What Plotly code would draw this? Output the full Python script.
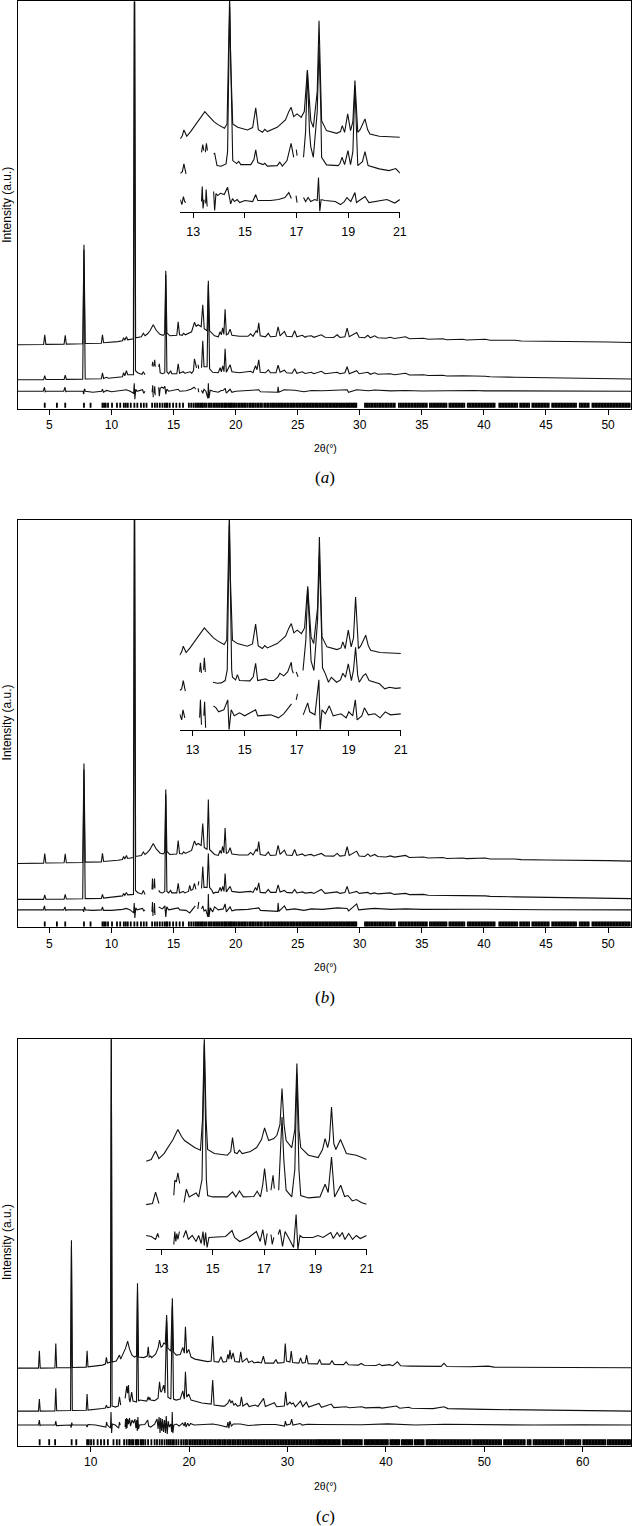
import plotly.graph_objects as go

# ---------------- DATA (2theta in degrees, intensity in arbitrary units) ----------------
# Panels (a) and (b): same observed pattern, two refinements
MAIN_OBS_AB = [(2.46,0),(4.53,0.3),(4.62,10),(4.71,0.4),(6.18,0.6),(6.27,9.5),(6.36,0.7),(7.68,1),(7.78,100),(7.88,1.3),
 (9.18,1.6),(9.27,10),(9.36,2),(10.0,2.5),(10.5,3.2),(10.88,4),(10.97,7),(11.07,4.5),(11.2,8),(11.3,5),(11.76,6),(11.85,420),
 (11.94,7),(12.4,8),(12.56,11.5),(12.7,9),(12.9,11),(13.1,14),(13.36,20),(13.6,14.5),(13.9,10.5),(14.15,9.5),(14.28,11),
 (14.37,74),(14.46,12),(14.7,9),(15.26,9.5),(15.37,23),(15.48,10),(15.7,9.5),(15.8,11.5),(15.95,10),(16.45,13),(16.68,22.5),
 (16.82,18.5),(16.98,20),(17.22,18),(17.35,40),(17.47,16),(17.7,14),(17.8,64),(17.9,14),(18.3,9),(18.6,8),(18.75,13),
 (18.85,10),(18.95,17),(19.05,10.5),(19.15,35.5),(19.25,10),(19.4,11),(19.55,15.7),(19.7,9.5),(20.3,8.5),(21.0,8.5),
 (21.2,11),(21.4,8.5),(21.65,14),(21.75,12),(21.86,22),(21.98,9),(22.4,8),(22.63,11.5),(22.8,8),(23.25,8.5),(23.42,18),
 (23.58,9),(23.93,13.3),(24.1,8.5),(24.55,8),(24.75,14),(24.93,8),(25.37,9.5),(25.6,7.5),(25.75,8.5),(26.1,9),(26.3,7.5),
 (26.9,10),(27.2,7.5),(27.9,7.3),(28.18,10),(28.4,7.3),(28.8,8),(28.98,16.7),(29.15,8),(29.75,12.3),(29.95,7.5),(30.4,7),
 (30.65,9.5),(30.85,7),(31.2,9),(31.45,7),(32.1,6.5),(32.45,7.5),(32.8,6.3),(33.68,8),(34.0,6),(35.14,6.5),(35.5,5.5),
 (36.7,6),(37.0,5),(38.3,5.5),(38.6,4.8),(40.1,5.5),(40.5,4.5),(42.5,4.5),(43.0,3.8),(45.0,3.5),(47.0,3.5),(48.0,3),
 (50.0,2.8),(51.85,2.3)]

MAIN_CALC_A = [(2.46,0),(4.53,0),(4.62,4),(4.71,0.2),(6.18,0.3),(6.27,4.5),(6.36,0.4),(7.68,0.6),(7.78,130),(7.88,0.8),
 (9.18,1),(9.27,7),(9.36,1.3),(9.6,2.5),(9.75,1.5),(10.5,2.5),(10.88,3),(10.97,7),(11.07,4),(11.2,9),(11.3,5),(11.77,5),
 (11.85,400),(11.93,9),(12.1,7),(12.3,6),(12.45,5.5),(12.56,8),(12.7,5),None,
 (13.27,14),(13.32,18),(13.36,13),None,(13.44,14),(13.48,20),(13.52,13),None,
 (13.8,13),(13.85,16),(13.92,7),(14.1,6),(14.29,7),(14.37,105),(14.46,8),(14.6,6),(14.76,9),(14.85,6),(15.26,6),(15.37,16),
 (15.48,6.5),(15.77,8),(15.9,6.5),(16.35,8),(16.45,6.5),(16.6,9),(16.68,21),(16.8,12),(16.85,12),None,(16.98,15),(17.02,11),None,
 (17.25,12),(17.35,39),(17.45,13),(17.7,13),(17.8,95),(17.9,11),(18.15,7.5),(18.6,7),(18.75,12),(18.85,8),(18.96,14),
 (19.06,8),(19.15,31),(19.25,7.5),(19.55,15),(19.7,8),(20.3,7),(21.2,8.5),(21.4,7),(21.6,14),(21.72,10),(21.86,20),(21.98,7.5),
 (22.4,7),(22.63,10),(22.8,7),(23.25,7),(23.42,14.5),(23.58,7.5),(23.93,9.5),(24.1,7),(24.55,6.5),(24.75,11),(24.93,6.5),
 (25.37,8),(25.6,6.3),(26.1,7.5),(26.3,6),(26.9,8.5),(27.2,6),(28.18,7.5),(28.4,6),(28.8,7),(28.98,13),(29.15,6),(29.75,9),
 (29.95,6),(30.65,7.5),(30.85,5.5),(31.2,7),(31.45,5.5),(32.45,6),(32.8,5),(33.68,6.5),(34.0,4.8),(35.14,5),(35.5,4.2),
 (36.7,4.5),(37.0,3.8),(38.3,4),(40.1,3.5),(40.5,3),(42.5,2.5),(45,2),(48,1.5),(51.85,0.8)]

MAIN_DIFF_A = [(2.46,0),(4.5,0),(4.6,4),(4.66,-0.5),(4.72,0),(6.15,0),(6.25,4),(6.32,-0.5),(6.4,0),(7.7,0),(7.76,-3),
 (7.82,2.5),(7.9,0),(8.5,-1),(9.2,0),(9.27,2),(9.35,-1),(9.6,0.8),(10.0,-0.5),(10.9,0.5),(11.2,1.5),(11.5,0),(11.78,-2),
 (11.83,8),(11.88,-8),(11.95,2),(12.05,0),(12.5,1.5),(12.6,-2),(12.7,0),None,(13.27,-1),(13.32,6),(13.36,-6),None,
 (13.44,-2),(13.48,5),(13.52,-4),None,(13.8,4),(13.85,-5),(13.92,3),(14.05,4),(14.2,3),(14.3,5),(14.37,-3),(14.45,2),
 (14.6,0),(15.0,1),(15.37,2),(15.5,0),(16.0,0.5),(16.4,2),(16.65,4),(16.8,2),None,(16.98,3),(17.02,-1),None,(17.25,1),
 (17.35,-2),(17.45,2),(17.6,0),(17.76,-7),(17.8,8),(17.85,-7),(17.95,1),(18.2,0),(18.6,-1),(18.8,0.5),(19.0,1),(19.15,3),
 (19.25,-2),(19.55,2),(19.7,-1),(20.0,0),(21.0,0.5),(21.86,1.5),(22.0,-0.5),(23.38,-1),(23.42,4.5),(23.48,-1),(23.9,1.5),
 (24.75,1),(25.5,-0.5),(26.1,0.8),(27.0,0.5),(28.2,1),(28.98,1.5),(29.1,-1),(29.75,1.5),(30.7,0.5),(31.2,1.2),(32.5,0.4),
 (33.7,0.8),(35.0,0.3),(36.7,0.6),(39.2,0.8),(40.1,0.4),(45,0.2),(51.85,0)]

MAIN_CALC_B = [(2.46,0),(4.53,0),(4.62,4.5),(4.71,0.2),(6.18,0.3),(6.27,5),(6.36,0.4),(7.68,0.6),(7.78,130),(7.88,0.8),
 (9.18,1),(9.27,5),(9.36,1.3),(10.5,2.5),(10.88,3.5),(10.97,6),(11.07,4),(11.2,7),(11.3,4.5),(11.77,5),(11.85,400),(11.93,9),
 (12.1,7),(12.3,6),(12.45,5.5),(12.56,9),(12.7,5),None,(13.26,10),(13.3,21),(13.34,10),None,(13.42,12),(13.46,21),(13.5,11),None,
 (13.8,9),(13.92,7),(14.1,6.5),(14.29,8),(14.37,105),(14.46,8),(14.6,6.5),(14.76,9),(14.85,6.5),(15.26,6.5),(15.37,16),
 (15.48,6.5),(15.77,8),(15.9,6.5),(16.2,8),(16.3,14),(16.4,9),(16.55,10),(16.68,16),(16.8,10),None,(16.98,14),(17.03,18),None,
 (17.25,11),(17.35,33),(17.45,12),(17.7,12),(17.8,46),(17.9,12),(18.1,9),(18.2,6),(18.35,7),(18.6,7),(18.75,12),(18.85,8),
 (18.96,13),(19.06,8),(19.15,26),(19.25,7.5),(19.55,13),(19.7,8),(20.3,7),(21.2,8),(21.4,7),(21.6,12),(21.72,9),(21.86,16.5),
 (21.98,7),(22.4,6.5),(22.63,10),(22.8,7),(23.25,7),(23.42,14.5),(23.58,7.5),(23.93,9),(24.1,7),(24.55,6.5),(24.75,10),(24.93,6.5),
 (25.37,7.5),(25.6,6.3),(26.1,7),(26.3,6),(26.9,10),(27.2,6),(28.18,7.5),(28.4,6),(28.8,7),(28.98,13),(29.15,6),(29.75,8),
 (29.95,6),(30.65,7),(30.85,5.5),(31.2,6.5),(31.45,5.5),(32.45,6.5),(32.8,5),(33.68,6),(34.0,4.8),(35.14,5),(35.5,4.2),
 (36.7,4.3),(37.0,3.8),(38.3,3.8),(40.1,3.5),(40.5,3),(42.5,2.5),(45,2),(48,1.5),(51.85,0.8)]

MAIN_DIFF_B = [(2.46,0),(4.5,0),(4.6,4),(4.66,-0.5),(4.72,0),(6.15,0),(6.25,3),(6.32,-0.5),(6.4,0),(7.7,0),(7.76,-2),
 (7.82,3),(7.9,0),(8.5,-0.5),(9.2,0),(9.27,3),(9.35,-0.5),(10.0,-0.5),(10.9,0.5),(11.2,1.5),(11.5,0),(11.78,-3),(11.83,7),
 (11.88,-8),(11.95,2),(12.05,0),(12.5,1.5),(12.6,-1),(12.7,0),None,(13.26,-2),(13.3,8),(13.34,-6),None,(13.42,-3),(13.46,7),
 (13.5,-5),None,(13.8,3),(13.95,2),(14.1,1),(14.3,4),(14.37,-7),(14.45,3),(14.6,0),(15.0,1),(15.37,2),(15.5,0),(16.0,-0.5),
 (16.3,-3),(16.5,0),(16.65,2),(16.75,4),None,(16.95,1),(17.03,8),None,(17.25,1),(17.35,4),(17.45,-1),(17.6,0),(17.76,-7),
 (17.8,16),(17.85,-7),(17.95,2),(18.15,-2),(18.3,3),(18.6,0),(19.0,1),(19.15,6),(19.25,-2),(19.55,3),(19.7,-1),(20.0,0),
 (21.0,0.5),(21.86,2),(22.0,-0.5),(23.38,-1.5),(23.42,7),(23.48,-1.5),(23.93,4),(24.1,0),(24.75,1),(25.5,-0.5),(26.1,1),
 (27.0,0.5),(28.2,2),(28.98,1.5),(29.1,-1),(29.75,6),(29.9,0),(30.7,1),(31.2,1.5),(32.5,0.5),(33.7,1),(35.0,0.5),(36.7,0.6),
 (39.2,0.8),(40.1,0.6),(45,0.2),(51.85,0)]

REFL_AB = [4.62,5.60,6.27,7.78,8.31,9.27,9.40,9.53,9.72,10.04,10.44,10.70,10.99,11.15,11.31,11.55,11.84,12.08,12.37,12.60,
 12.82,13.27,13.49,13.68,13.89,14.10,14.29,14.42,14.50,14.69,14.96,15.22,15.49,15.76,16.23,16.42,16.60,16.76,16.89,17.02,
 17.14,17.27,17.36,17.50,17.62,17.80,17.93,18.05,18.20,18.33,18.46,18.58,18.72,18.85,18.95,19.08,19.16,19.28,19.40,19.52,
 19.60,19.70,19.82,19.93,20.05,20.2,20.31,20.44,20.58,20.7,20.81,20.95,21.1,21.22,21.35,21.46,21.6,21.74,21.86,22.0,22.12,
 22.3,22.42,22.55,22.66,22.8,22.93,23.05,23.17,23.3,23.42,23.55,23.66,23.78,23.9,24.03,24.15,24.27,24.4,24.52,24.63,24.75,
 24.88,25.0,25.12,25.24,25.36,25.47,25.58,25.7,25.82,25.93,26.05,26.16,26.28,26.4,26.51,26.62,26.74,26.85,26.97,27.08,27.2,
 27.31,27.42,27.54,27.65,27.76,27.88,27.99,28.1,28.21,28.33,28.44,28.55,28.66,28.78,28.89,29.0,29.1,29.2,29.31,29.42,29.52,
 29.62,29.72,30.42,30.55,30.66,30.8,30.92,31.05,31.18,31.3,31.43,31.56,31.68,31.8,31.93,32.06,32.18,32.3,32.44,32.57,32.7,
 32.82,33.15,33.28,33.4,33.52,33.65,33.77,33.9,34.02,34.15,34.27,34.4,34.52,34.65,34.77,34.9,35.02,35.15,35.27,35.4,35.65,
 35.77,35.9,36.02,36.14,36.26,36.38,36.5,36.62,36.74,36.86,36.98,37.22,37.34,37.46,37.58,37.7,37.82,37.94,38.06,38.18,38.3,
 38.42,38.7,38.82,38.94,39.06,39.18,39.3,39.42,39.54,39.66,39.78,39.9,40.02,40.14,40.26,40.38,40.5,40.62,40.74,40.86,41.24,
 41.36,41.48,41.6,41.72,41.84,41.96,42.08,42.2,42.32,42.44,42.56,42.68,42.92,43.04,43.16,43.28,43.4,43.52,43.64,43.9,44.02,
 44.14,44.26,44.38,44.5,44.62,44.74,44.86,44.98,45.1,45.22,45.5,45.62,45.74,45.86,45.98,46.1,46.22,46.34,46.46,46.58,46.7,
 46.82,46.94,47.06,47.18,47.3,47.42,47.72,47.84,47.96,48.08,48.2,48.32,48.44,48.74,48.86,48.98,49.1,49.22,49.34,49.46,49.58,
 49.7,49.82,49.94,50.06,50.18,50.3,50.42,50.54,50.66,50.78,50.9,51.02,51.14,51.26,51.38,51.5,51.62,51.74]

INSET_OBS_AB = [(12.5,72.7),(12.58,76),(12.64,81.7),(12.75,75.3),(12.9,80),(13.06,86),(13.2,91),(13.32,96),(13.45,100),
 (13.55,97),(13.64,94.3),(13.8,90),(13.96,87),(14.1,85),(14.21,83.3),(14.31,87.7),(14.37,150),(14.41,215),(14.45,150),
 (14.53,87.7),(14.72,84.3),(15.1,81.7),(15.3,84),(15.42,103.7),(15.52,82),(15.68,79.3),(15.77,82.3),(15.87,80),(16.25,84.3),
 (16.57,91.7),(16.7,100),(16.79,104.3),(16.89,95),(17.02,97.7),(17.18,94.3),(17.3,100),(17.42,141.7),(17.55,91),(17.65,84.3),
 (17.8,120),(17.87,191),(17.94,120),(17.97,91),(18.16,81),(18.55,78.3),(18.7,80),(18.77,86),(18.86,79.3),(18.98,97.7),
 (19.09,81),(19.18,90),(19.26,131),(19.34,85),(19.37,79.3),(19.46,82),(19.57,88),(19.65,92.7),(19.75,82),(19.84,77.7),
 (20.2,75.3),(20.6,74.8),(21.0,74.3)]

INSET_CALC_A = [(12.5,38.3),(12.58,40),(12.64,47.7),(12.72,37.7),None,(13.32,59.3),(13.37,67),(13.41,61),None,(13.47,59.3),
 (13.51,68.3),(13.55,61),None,(13.79,57.7),(13.83,58.3),(13.92,46),(14.08,45.3),(14.27,47.7),(14.33,60),(14.41,205),(14.5,60),
 (14.53,51),(14.68,48),(14.76,50.3),(14.84,47),(15.23,47),(15.35,52),(15.42,61.7),(15.5,49),(15.7,47),(15.77,48.3),
 (15.87,45.5),(16.25,46),(16.35,49.3),(16.45,45.5),(16.63,51),(16.79,68.3),(16.89,54.3),None,(16.99,62),(17.02,56),None,
 (17.27,54.3),(17.35,80),(17.42,141),(17.5,80),(17.55,65),(17.65,54.3),(17.8,100),(17.87,165),(17.94,100),(17.97,54.3),
 (18.16,46.7),(18.61,46),(18.68,48),(18.76,54.3),(18.86,47),(18.99,61),(19.09,47),(19.18,60),(19.26,125),(19.34,60),
 (19.37,46),(19.55,50),(19.65,60),(19.77,46),(20.2,42.7),(20.58,41),(20.7,42),(20.84,43),(20.95,40),(21.0,38.3)]

INSET_DIFF_A = [(12.5,12),(12.56,7),(12.62,15),(12.67,10),(12.72,9),None,(13.32,10),(13.35,25),(13.38,3),(13.42,12),None,
 (13.48,8),(13.5,22),(13.54,5),None,(13.79,20),(13.83,1),(13.88,18),(13.95,16),(14.05,18.3),(14.2,17),(14.33,24.3),
 (14.41,11),(14.45,7.7),(14.52,13),(14.6,10),(14.7,12),(14.8,9),(15.0,11),(15.3,10),(15.42,17),(15.5,11),(16.0,11),
 (16.3,12),(16.55,14),(16.7,19),(16.8,13),None,(16.98,16),(17.02,9),None,(17.27,14),(17.35,10),(17.45,14),(17.55,10),
 (17.7,12),(17.8,11),(17.85,34),(17.9,0),(17.95,12),(18.1,11),(18.5,10),(18.7,7),(18.85,10),(18.95,14),(19.1,10),
 (19.26,19),(19.32,9),(19.5,12),(19.65,15),(19.8,9),(20.2,11),(20.5,12),(20.8,8.5),(21.0,12)]

INSET_CALC_B = [(12.5,39.3),(12.58,41),(12.64,49.3),(12.72,38.7),None,(13.27,58),(13.3,67),(13.34,57),None,(13.42,60),
 (13.45,72),(13.49,58),None,(13.78,47.6),(13.95,46.6),(14.1,47),(14.25,49.3),(14.33,60),(14.41,205),(14.5,60),(14.53,52.6),
 (14.65,50),(14.72,55.3),(14.8,49.3),(15.2,49),(15.33,53),(15.42,66.6),(15.5,49.3),(15.7,50),(15.8,51),(15.9,49.5),
 (16.12,49.3),(16.28,53),(16.35,56.6),(16.5,54),(16.65,58),(16.79,67.6),(16.82,60),(16.87,56.6),None,(16.98,58),(17.05,53),None,
 (17.24,59.3),(17.35,90),(17.42,142),(17.5,90),(17.55,69),(17.66,59.3),(17.8,110),(17.87,175),(17.94,110),(17.99,62),
 (18.1,56),(18.22,47.6),(18.33,52.6),(18.53,47.6),(18.68,50),(18.77,56.6),(18.87,52.6),(18.98,66),(19.1,49.3),(19.18,60),
 (19.26,82.6),(19.34,55),(19.4,47.6),(19.55,54),(19.65,56),(19.78,49.3),(20.18,46),(20.38,41),(20.56,42.6),(20.8,41.5),
 (21.0,42)]

INSET_DIFF_B = [(12.5,16),(12.58,10),(12.63,20),(12.7,12),None,(13.27,12),(13.3,30),(13.34,5),None,(13.43,14),(13.46,28),
 (13.5,2),None,(13.8,24),(13.9,22),(14.0,18),(14.2,20),(14.35,30),(14.4,0),(14.48,20),(14.6,14),(14.8,17),(15.0,14),
 (15.42,20),(15.5,14),(16.0,15),(16.3,12),(16.5,16),(16.7,22),(16.8,26),None,(16.98,30),(17.03,36),None,(17.25,15),
 (17.42,27),(17.5,18),(17.7,15),(17.85,50),(17.9,0),(17.97,20),(18.1,16),(18.25,24),(18.4,14),(18.7,16),(18.9,12),
 (19.0,18),(19.15,14),(19.25,30),(19.32,10),(19.5,14),(19.6,22),(19.75,15),(20.0,16),(20.2,12),(20.4,18),(20.6,15),(21.0,16)]

# Panel (c)
MAIN_OBS_C = [(2.6,0),(4.7,0),(4.79,17.3),(4.88,0),(6.37,0.2),(6.46,24.7),(6.55,0.3),(7.96,0.5),(8.05,128),(8.14,0.6),
 (9.55,1),(9.64,17.3),(9.73,1.2),(10.5,2),(11.2,3),(11.5,4),(11.6,10.7),(11.7,5),(12.02,6),(12.1,340),(12.18,6),(12.6,7),
 (12.93,13),(13.05,9),(13.3,14),(13.55,20),(13.76,27),(13.95,19),(14.2,13),(14.45,11),(14.66,12),(14.76,85),(14.86,11),
 (15.4,10.5),(15.75,12),(15.85,21.3),(15.95,11),(16.1,12),(16.2,10.5),(16.6,14),(16.85,20),(17.0,28),(17.15,21),(17.3,22),
 (17.42,25),(17.58,24),(17.72,53),(17.84,20),(18.15,17),(18.3,70),(18.42,16),(18.7,13),(19.1,13.5),(19.36,20.7),(19.52,15),
 (19.63,41.3),(19.76,15),(19.97,18.7),(20.2,11),(20.6,9),(21.1,8),(21.6,7.3),(21.9,6.5),(22.25,7),(22.4,32),(22.54,6.5),
 (23.0,6),(23.24,11.3),(23.45,6),(23.8,6.5),(23.94,13.7),(24.05,9),(24.15,18),(24.3,9),(24.47,15.3),(24.65,6.5),(25.1,6),
 (25.25,16.3),(25.4,6),(25.87,9.7),(26.05,5.5),(26.4,7.3),(26.6,5.3),(27.02,6),(27.35,5.2),(27.55,12),(27.72,5),(28.6,5),
 (28.82,8.7),(29.0,5),(29.65,5.5),(29.77,24.7),(29.9,7),(30.25,6),(30.38,17),(30.52,5.5),(31.15,5),(31.33,10.3),(31.5,5),
 (31.8,5.5),(31.94,13),(32.1,4.5),(33.05,4.2),(33.26,8.7),(33.45,4),(34.3,4),(34.52,7.3),(34.75,3.7),(35.7,3.5),(35.96,6.3),
 (36.2,3.3),(37.2,3),(37.48,4.7),(37.8,2.8),(39.0,2.6),(39.33,4),(39.6,2.5),(40.35,3.5),(40.7,2.4),(41.17,6.3),(41.5,2.3),
 (42.5,2),(44,1.8),(45.6,1.7),(45.9,4.7),(46.2,1.6),(48.5,1.3),(50.4,2),(51,1),(55,0.8),(59,1.2),(60,0.6),(64.9,0.3)]

MAIN_CALC_C = [(2.6,0),(4.7,0),(4.79,12),(4.88,0),(6.37,0.2),(6.46,22.7),(6.55,0.3),(7.96,0.5),(8.05,165),(8.14,0.6),
 (9.55,0.8),(9.64,17),(9.73,1),(10.5,1.5),(11.2,2.5),(11.5,3),(11.6,6),(11.7,3.5),(12.02,4),(12.1,380),(12.18,5),
 (12.35,4.5),(12.5,4),(12.8,5),(12.93,14.3),(13.05,6),None,(13.5,12.7),(13.6,22),(13.67,25),(13.75,18),(13.84,26),
 (13.92,12),(14.0,9),(14.17,19),(14.3,10),(14.66,9),(14.76,120),(14.86,10),(15.0,11),(15.7,10),(15.85,14.3),(15.93,11),
 (16.0,13.7),(16.1,11),(16.5,10.5),(16.85,13),(17.0,29.3),(17.1,20),(17.18,19),(17.3,22),(17.42,26),(17.55,18),(17.72,90),
 (17.85,14),(18.15,12),(18.3,105),(18.42,12),(18.69,11),(19.1,12),(19.36,20.3),(19.52,12),(19.63,39.3),(19.76,14),(19.97,17),
 (20.2,11),(21.3,8),(21.6,7.7),(22.0,7),(22.25,7),(22.4,31),(22.54,6),(23.38,5),(23.6,5),(23.94,8),(24.12,11.7),(24.25,8),
 (24.38,10.3),(24.55,6),(24.72,7.5),(24.9,5),(25.18,5.5),(25.32,14.3),(25.47,5),(25.89,7.7),(26.1,4.5),(26.73,6),(27.0,4.5),
 (27.57,12.7),(27.75,4.5),(28.67,8.3),(28.9,4.3),(29.68,5),(29.81,19.3),(29.95,6),(30.25,9),(30.4,7),(30.58,8),(30.8,4.2),
 (31.32,10),(31.55,4.5),(31.92,9),(32.15,4),(33.2,7.7),(33.45,3.8),(34.44,7),(34.7,3.5),(35.94,4.3),(36.3,3.3),(37.55,4.3),
 (37.9,3.2),(39.3,3.7),(39.6,3),(41.07,5),(41.4,2.8),(42.3,3.8),(42.6,2.8),(44.8,2.5),(45.9,4.3),(46.3,2.5),(50.0,1.7),
 (55,1),(60,0.5),(64.9,0)]

MAIN_DIFF_C = [(2.6,0),(4.7,0),(4.79,5),(4.86,-0.5),(4.95,0),(6.38,0),(6.46,4),(6.54,-0.5),(7.95,0),(8.02,-2.5),(8.08,2.5),
 (8.15,0),(9.55,0),(9.64,-2),(9.72,0.5),(10.5,0),(11.55,-2),(11.62,3),(11.7,0),(12.02,-3),(12.07,13),(12.13,-8),(12.2,1),
 (12.5,0),(12.85,-3),(12.93,3),(13.0,0),None,(13.5,-2),(13.55,6),(13.6,-4),(13.65,7),(13.7,-3),(13.76,6),(13.85,1),
 (13.95,7),(14.05,-1),(14.2,5),(14.35,2),(14.5,6),(14.6,-3),(14.68,5),(14.74,-6),(14.8,8),(14.86,-4),(14.95,0),(15.5,0.5),
 (15.8,5),(15.9,-1),(16.1,-2),(16.5,1),(16.75,6),(16.85,-4),(16.95,8),(17.05,-8),(17.12,7),(17.22,-6),(17.3,6),(17.4,-7),
 (17.5,5),(17.6,-8),(17.68,9),(17.78,-9),(17.88,4),(18.0,-2),(18.15,1),(18.24,-7),(18.29,13),(18.35,-8),(18.45,0),(18.7,1),
 (19.0,-1),(19.35,2),(19.5,-1),(19.6,3),(19.7,-2),(19.85,2),(20.0,-1),(20.15,1.5),(20.5,0),(21.5,0.5),(22.4,1),(23.0,0),
 (23.85,-2),(23.95,3),(24.05,-3),(24.15,4),(24.3,-1),(24.5,1),(25.2,1),(26.0,-0.5),(27.5,0.5),(28.8,0.5),(29.7,-1),
 (29.78,4),(29.9,0),(30.3,1),(30.42,6),(30.55,0),(31.3,1.5),(31.5,0),(32.0,0.8),(33.2,0.5),(34.5,0.5),(36.0,0.4),(37.5,0.3),
 (40.2,1.2),(41.2,0.8),(43,0),(46.0,0.8),(50.0,0.3),(55,0),(60,0.2),(64.9,0)]

REFL_C = [4.82,5.79,6.39,8.07,8.54,9.64,9.81,10.04,10.31,10.71,11.05,11.38,11.75,12.32,12.66,12.93,13.40,13.66,13.90,14.00,
 14.20,14.33,14.57,14.70,14.83,15.07,15.20,15.34,15.55,15.84,16.17,16.50,16.74,17.01,17.25,17.51,17.75,17.95,18.12,18.29,
 18.46,18.69,18.92,19.19,19.42,19.62,19.79,20.02,20.19,20.38,20.55,20.7,20.88,21.05,21.2,21.38,21.55,21.7,21.88,22.05,22.22,
 22.38,22.55,22.72,22.9,23.05,23.22,23.4,23.56,23.72,23.9,24.06,24.22,24.4,24.56,24.72,24.9,25.06,25.22,25.4,25.56,25.72,
 25.88,26.05,26.2,26.38,26.55,26.7,26.86,27.02,27.2,27.36,27.52,27.68,27.85,28.0,28.16,28.32,28.48,28.64,28.8,28.96,29.12,
 29.28,29.44,29.6,29.76,29.92,30.08,30.24,30.4,30.56,30.72,30.88,31.04,31.2,31.36,31.52,31.68,31.84,32.0,32.16,32.32,32.48,
 32.64,32.8,32.96,33.1,33.23,33.36,33.49,33.62,33.75,33.88,34.01,34.14,34.27,34.4,34.53,34.66,34.79,34.92,35.05,35.18,35.31,
 35.6,35.73,35.86,35.99,36.12,36.25,36.38,36.51,36.64,36.77,36.9,37.03,37.16,37.29,37.42,37.55,37.85,37.98,38.11,38.24,
 38.37,38.5,38.63,38.76,38.89,39.02,39.15,39.28,39.41,39.54,39.67,39.8,39.93,40.06,40.19,40.45,40.58,40.71,40.84,40.97,
 41.1,41.23,41.36,41.62,41.75,41.88,42.01,42.14,42.27,42.4,42.53,42.66,42.92,43.05,43.18,43.31,43.44,43.57,43.7,43.83,
 44.12,44.25,44.38,44.51,44.64,44.77,44.9,45.03,45.16,45.31,45.46,45.61,45.76,45.91,46.06,46.21,46.36,46.51,46.66,46.81,
 46.96,47.11,47.26,47.41,47.56,47.71,47.86,48.01,48.16,48.31,48.46,48.61,48.85,49.0,49.15,49.3,49.45,49.6,49.75,49.9,
 50.05,50.2,50.35,50.5,50.65,50.8,50.95,51.1,51.25,51.4,51.55,51.7,52.0,52.15,52.3,52.45,52.6,52.75,52.9,53.05,53.2,
 53.35,53.5,53.65,53.8,53.95,54.1,54.4,54.55,54.7,55.0,55.15,55.3,55.45,55.6,55.75,55.9,56.05,56.2,56.35,56.5,56.65,
 56.8,56.95,57.1,57.25,57.4,57.55,57.7,57.85,58.0,58.25,58.4,58.55,58.7,58.85,59.0,59.15,59.3,59.45,59.6,59.75,60.05,
 60.2,60.35,60.5,60.65,60.8,60.95,61.1,61.25,61.4,61.55,61.7,61.85,62.0,62.15,62.3,62.55,62.7,62.85,63.0,63.15,63.3,
 63.45,63.6,63.75,63.9,64.05,64.2,64.35,64.5,64.65,64.8]

INSET_OBS_C = [(12.4,88.3),(12.6,90),(12.77,98.6),(12.9,91),(13.1,96),(13.26,102.6),(13.45,110),(13.64,120),(13.78,113),
 (13.9,109),(14.1,105),(14.29,102),(14.52,99.3),(14.6,130),(14.67,212),(14.74,130),(14.8,100),(15.06,96),(15.57,94.3),
 (15.7,98),(15.77,112),(15.85,97),(15.95,96),(16.04,99.3),(16.15,96),(16.47,98),(16.71,102),(16.9,110),(17.02,121.6),
 (17.18,109),(17.38,111),(17.5,114.3),(17.62,125),(17.7,161),(17.78,125),(17.86,109),(18.08,102),(18.2,120),(18.28,186),
 (18.36,120),(18.43,102),(18.73,94.3),(19.11,92),(19.28,100),(19.38,111),(19.48,102),(19.55,110),(19.63,142.6),(19.72,106),
 (19.8,100),(19.98,110),(20.1,102),(20.21,96),(20.6,94.3),(21.0,90)]

INSET_CALC_C = [(12.4,44.9),(12.65,46),(12.77,57.3),(12.9,46),None,(13.48,54.3),(13.52,69.3),(13.58,67.6),(13.64,76.6),
 (13.71,66),None,(13.88,47),(13.97,60.3),(14.08,52.6),(14.29,56),(14.35,56.6),(14.45,52.6),(14.58,70),(14.67,205),(14.75,70),
 (14.8,54),(15.0,52.6),(15.57,52.6),(15.77,57.6),(15.9,52.6),(16.04,58.6),(16.19,52.6),(16.6,53),(16.73,58.3),(16.86,52.6),
 (16.95,65),(17.02,81),(17.12,57.6),None,(17.27,59.3),(17.35,74.3),(17.4,61),None,(17.57,59.3),(17.63,90),(17.7,132.6),
 (17.77,90),(17.86,59.3),(18.08,52.6),(18.2,80),(18.28,175),(18.36,80),(18.43,54),(18.73,51.6),(19.18,52.6),(19.38,65.3),
 (19.5,57),(19.63,92.6),(19.75,52.6),(19.99,64.3),(20.14,53),(20.27,54),(20.44,48.6),(20.6,50),(20.79,47),(21.0,45.3)]

INSET_DIFF_C = [(12.4,14),(12.6,13),(12.77,10),(12.85,16),(12.9,12),None,(13.48,5),(13.52,18),(13.56,8),(13.6,16),
 (13.64,10),(13.7,18),None,(13.85,12),(13.95,19),(14.05,10),(14.2,14),(14.35,8),(14.45,14),(14.55,6),(14.62,18),(14.67,4),
 (14.72,17),(14.78,2),(14.85,12),(15.5,13),(15.75,19),(15.85,12),(16.05,8),(16.4,12),(16.7,18),(16.85,8),(16.95,20),
 (17.05,4),(17.12,16),None,(17.27,15),(17.32,5),(17.38,12),None,(17.55,15),(17.62,20),(17.72,3),(17.82,18),(17.95,12),
 (18.15,2),(18.25,35),(18.32,0),(18.4,14),(18.5,12),(18.9,12),(19.1,14),(19.3,12),(19.6,17),(19.7,11),(19.85,17),
 (19.95,13),(20.05,17),(20.15,10),(20.3,16),(20.45,10),(20.6,14),(20.75,11),(21.0,14)]

MAIN_TICKS_AB = [5, 10, 15, 20, 25, 30, 35, 40, 45, 50]
MAIN_TICKS_C = [10, 20, 30, 40, 50, 60]
INSET_TICKS = [13, 15, 17, 19, 21]

# ---------------- helpers ----------------
W, H = 640, 1526
LINE = dict(color="#111111", width=1.1)


def curve(pairs, offset=0.0):
    xs, ys = [], []
    for p in pairs:
        if p is None:
            xs.append(None); ys.append(None)
        else:
            xs.append(p[0]); ys.append(p[1] + offset)
    return xs, ys


def refl(positions, lo, hi):
    xs, ys = [], []
    for p in positions:
        xs += [p, p, None]
        ys += [lo, hi, None]
    return xs, ys


def py(px):  # pixel row -> paper fraction
    return (H - px) / H


fig = go.Figure()


def add(pairs, xa, ya, offset=0.0, line=LINE):
    x, y = curve(pairs, offset)
    fig.add_trace(go.Scatter(x=x, y=y, mode="lines", line=line, xaxis=xa, yaxis=ya,
                             hoverinfo="skip", showlegend=False, connectgaps=False))


def add_refl(positions, xa, ya, lo, hi):
    x, y = refl(positions, lo, hi)
    fig.add_trace(go.Scatter(x=x, y=y, mode="lines", line=dict(color="black", width=1.8),
                             xaxis=xa, yaxis=ya, hoverinfo="skip", showlegend=False))


# panel a
add(MAIN_OBS_AB, "x", "y", 64)
add(MAIN_CALC_A, "x", "y", 29)
add(MAIN_DIFF_A, "x", "y", 17.5)
add_refl(REFL_AB, "x", "y", 1, 6)
add(INSET_OBS_AB, "x2", "y2")
add(INSET_CALC_A, "x2", "y2")
add(INSET_DIFF_A, "x2", "y2")
# panel b
add(MAIN_OBS_AB, "x3", "y3", 64)
add(MAIN_CALC_B, "x3", "y3", 28)
add(MAIN_DIFF_B, "x3", "y3", 17.5)
add_refl(REFL_AB, "x3", "y3", 1, 6)
add(INSET_OBS_AB, "x4", "y4", 2)
add(INSET_CALC_B, "x4", "y4")
add(INSET_DIFF_B, "x4", "y4")
# panel c
add(MAIN_OBS_C, "x5", "y5", 78)
add(MAIN_CALC_C, "x5", "y5", 35)
add(MAIN_DIFF_C, "x5", "y5", 21)
add_refl(REFL_C, "x5", "y5", 0.8, 6.8)
add(INSET_OBS_C, "x6", "y6")
add(INSET_CALC_C, "x6", "y6")
add(INSET_DIFF_C, "x6", "y6")

FONT = "Liberation Sans, Arial, Helvetica, sans-serif"
XD = [18 / W, 638 / W]


def main_x(rng, ticks, anchor):
    return dict(domain=XD, range=rng, anchor=anchor, showline=True, mirror=True, linecolor="black",
                linewidth=1, ticks="outside", ticklen=5, tickwidth=1, tickcolor="black",
                tickvals=ticks, showgrid=False, zeroline=False,
                tickfont=dict(family=FONT, size=12, color="black"))


def main_y(top_px, bot_px, rng, anchor):
    return dict(domain=[py(bot_px), py(top_px)], range=rng, anchor=anchor, showline=True, mirror=True,
                linecolor="black", linewidth=1, ticks="", showticklabels=False, showgrid=False,
                zeroline=False)


def inset_x(x0px, x1px, rng, anchor):
    return dict(domain=[x0px / W, x1px / W], range=rng, anchor=anchor, showline=True, mirror=False,
                linecolor="black", linewidth=1, ticks="outside", ticklen=5, tickwidth=1,
                tickcolor="black", tickvals=INSET_TICKS, showgrid=False, zeroline=False,
                ticklabelstandoff=3,
                tickfont=dict(family=FONT, size=12.5, color="black"))


def inset_y(top_px, bot_px, anchor):
    return dict(domain=[py(bot_px), py(top_px)], range=[0, bot_px - top_px], anchor=anchor,
                visible=False, showgrid=False, zeroline=False)


fig.update_layout(
    width=W, height=H, margin=dict(l=0, r=0, t=0, b=0), paper_bgcolor="white", plot_bgcolor="rgba(0,0,0,0)",
    showlegend=False,
    xaxis=main_x([2.45, 51.85], MAIN_TICKS_AB, "y"),
    yaxis=main_y(0.5, 408, [0, 407.5], "x"),
    xaxis2=inset_x(182.3, 404.3, [12.5, 21], "y2"),
    yaxis2=inset_y(0, 210.7, "x2"),
    xaxis3=main_x([2.45, 51.85], MAIN_TICKS_AB, "y3"),
    yaxis3=main_y(519, 927, [0, 408], "x3"),
    xaxis4=inset_x(181.6, 405.3, [12.5, 21], "y4"),
    yaxis4=inset_y(519, 729.3, "x4"),
    xaxis5=main_x([2.6, 64.9], MAIN_TICKS_C, "y5"),
    yaxis5=main_y(1039, 1446, [0, 407], "x5"),
    xaxis6=inset_x(147.7, 370.7, [12.4, 21], "y6"),
    yaxis6=inset_y(1039, 1249.3, "x6"),
)

ann = []
for lab, cy_ylab, cy_x, cy_p in [("a", 204, 447, 477), ("b", 722, 967, 997), ("c", 1242, 1486, 1516)]:
    ann.append(dict(text="Intensity (a.u.)", x=7 / W, y=py(cy_ylab), xref="paper", yref="paper",
                    textangle=-90, showarrow=False, xanchor="center", yanchor="middle",
                    font=dict(family=FONT, size=12, color="black")))
    ann.append(dict(text="2θ(°)", x=329 / W, y=py(cy_x), xref="paper", yref="paper", showarrow=False,
                    xanchor="center", yanchor="middle", font=dict(family=FONT, size=10.5, color="black")))
    ann.append(dict(text="(<i>%s</i>)" % lab, x=329 / W, y=py(cy_p), xref="paper", yref="paper",
                    showarrow=False, xanchor="center", yanchor="middle",
                    font=dict(family="Liberation Serif, Times New Roman, serif", size=17, color="black")))
fig.update_layout(annotations=ann)

fig.write_html("out.html")
